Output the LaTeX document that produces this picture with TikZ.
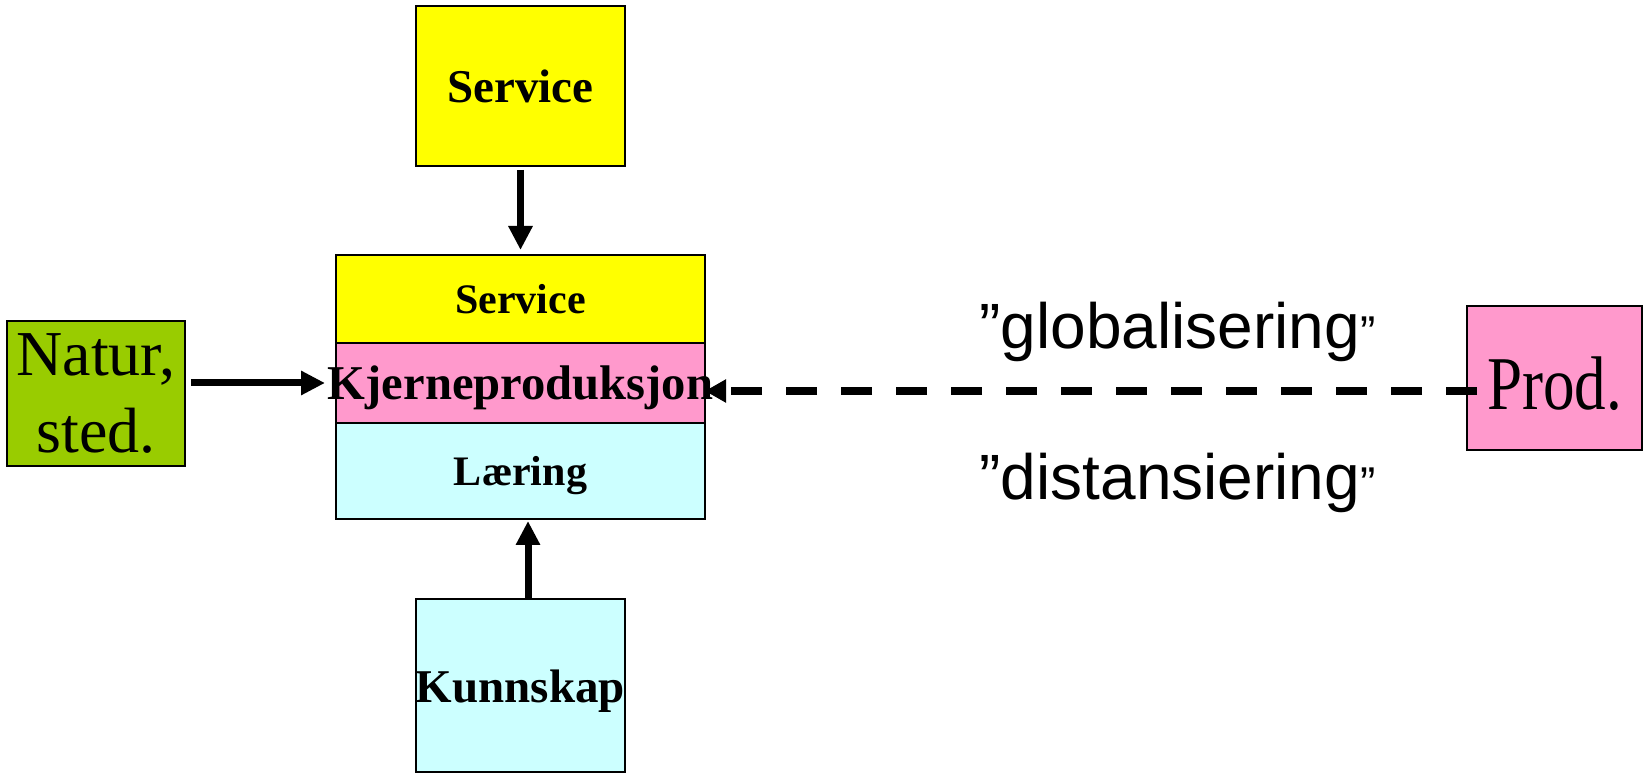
\documentclass[tikz,border=0pt]{standalone}
\usepackage{fontspec}
\usepackage{graphicx}
\setmainfont{Liberation Serif}
\newfontfamily\arialfont{Liberation Sans}
\usetikzlibrary{arrows.meta}
\definecolor{cyel}{HTML}{FFFF00}
\definecolor{cpink}{HTML}{FF99CC}
\definecolor{ccyan}{HTML}{CCFFFF}
\definecolor{cgreen}{HTML}{99CC00}
\begin{document}
\begin{tikzpicture}[x=0.5pt,y=-0.5pt,
  box/.style={draw=black, line width=0.8pt, inner sep=0pt, outer sep=0pt, align=center},
  bigfont/.style={font=\fontsize{23.5}{28}\selectfont\bfseries, text height=17pt, text depth=0pt},
  midfont/.style={font=\fontsize{21}{25}\selectfont\bfseries, text height=15pt, text depth=0pt},
  arr/.style={line width=3.5pt, -{Triangle[length=12pt,width=11.5pt]}},
  dasharr/.style={line width=4pt, dash pattern=on 15.5pt off 12pt, -{Triangle[length=10.5pt,width=11pt]}},
  lbl/.style={inner sep=0pt, font=\arialfont\fontsize{32}{38}\selectfont}
]
\useasboundingbox (0,0) rectangle (1643,774);

\node[box, bigfont, fill=cyel, minimum width=104.5pt, minimum height=80pt] (svcTop) at (520.5,86) {Service};

\node[box, midfont, fill=cyel, minimum width=184.5pt, minimum height=44pt] (svc) at (520.5,299) {Service};
\node[box, font=\fontsize{24.3}{28}\selectfont\bfseries, text height=17pt, text depth=0pt, fill=cpink, minimum width=184.5pt, minimum height=40pt] (kjerne) at (520.5,383) {\makebox[0pt][c]{Kjerneproduksjon}};
\node[box, midfont, fill=ccyan, minimum width=184.5pt, minimum height=48pt] (laering) at (520.5,471) {Læring};

\node[box, fill=cgreen, minimum width=89pt, minimum height=72.5pt, font=\fontsize{32}{38.5}\selectfont] (natur) at (96,393.5) {Natur,\\sted.};

\node[box, fill=cpink, minimum width=87.5pt, minimum height=72pt, font=\fontsize{38}{44}\selectfont, text height=32pt, text depth=0pt] (prod) at (1554.5,378) {\scalebox{0.83}[1]{Prod.}};

\node[box, bigfont, fill=ccyan, minimum width=104.5pt, minimum height=86.5pt] (kunn) at (520.5,685.5) {\makebox[0pt][c]{Kunnskap}};

\draw[arr, shorten <=2pt, shorten >=2.5pt] (svcTop.south) -- (svc.north);
\draw[arr, shorten >=1pt] ([xshift=3.75pt]kunn.north) -- ([xshift=3.75pt]laering.south);

\path (natur.east |- kjerne.west) ++(3pt,0) coordinate (a0);
\draw[arr, shorten >=5.5pt] (a0) -- (kjerne.west);

\path (prod.west) ++(5pt,-6.5pt) coordinate (d0);
\draw[dasharr] (d0) -- (d0 -| kjerne.east);

\node[lbl, anchor=base] (glob) at (1177.5,349) {”globalisering{\fontsize{23}{23}\selectfont”}};
\node[lbl, anchor=base] (dist) at (1177.5,500) {”distansiering{\fontsize{23}{23}\selectfont”}};
\end{tikzpicture}
\end{document}
